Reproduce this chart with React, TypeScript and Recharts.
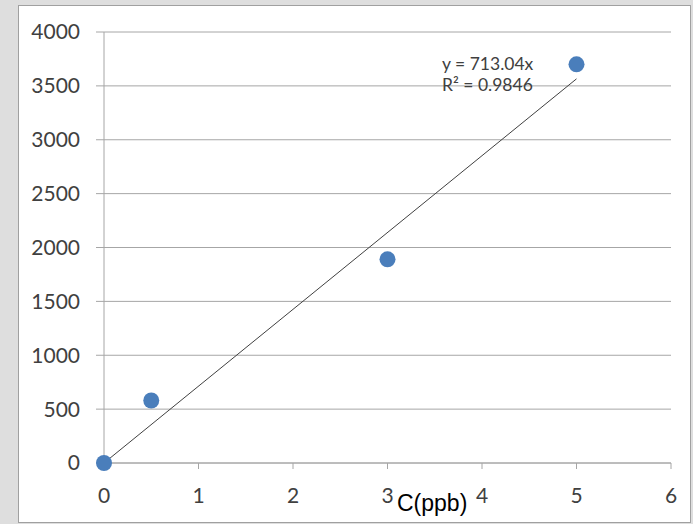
import { ScatterChart, Scatter, XAxis, YAxis, CartesianGrid } from 'recharts'

// measured points: concentration (ppb) vs signal
const concentration = [0, 0.5, 3, 5]
const signal = [0, 580, 1890, 3700]

// linear fit through origin, y = 713.04x
const slope = 713.04
const fitX = [0, 5]

const xTicks = [0, 1, 2, 3, 4, 5, 6]
const yTicks = [0, 500, 1000, 1500, 2000, 2500, 3000, 3500, 4000]

const points = concentration.map((c, i) => ({ x: c, y: signal[i] }))
const fitLine = fitX.map((x) => ({ x, y: slope * x }))

const tickFont = { fill: '#404040', fontSize: 21, fontFamily: 'Lato' }
const gridColor = '#a6a6a6'

export default function App() {
  return (
    <div
      style={{
        position: 'fixed',
        left: 0,
        top: 0,
        width: 693,
        height: 524,
        background: '#dedede',
        overflow: 'hidden',
      }}
    >
      <div
        style={{
          position: 'absolute',
          left: 18,
          top: 5,
          width: 671,
          height: 516,
          background: '#fff',
          border: '1px solid #a0a0a0',
        }}
      />
      <div style={{ position: 'absolute', left: 0, top: 0 }}>
        <ScatterChart
          width={693}
          height={524}
          margin={{ top: 32, right: 22, bottom: 31, left: 0 }}
        >
          <CartesianGrid vertical={false} stroke={gridColor} />
          <XAxis
            type="number"
            dataKey="x"
            domain={[0, 6]}
            ticks={xTicks}
            height={30}
            stroke={gridColor}
            tickSize={6}
            tickMargin={19}
            tick={tickFont}
          />
          <YAxis
            type="number"
            dataKey="y"
            domain={[0, 4000]}
            ticks={yTicks}
            width={104}
            stroke={gridColor}
            tickSize={8}
            tickMargin={16}
            tick={tickFont}
          />
          <Scatter
            data={fitLine}
            line={{ stroke: '#404040', strokeWidth: 1 }}
            shape={() => null}
            isAnimationActive={false}
          />
          <Scatter
            data={points}
            fill="#4a7ebb"
            shape={(props: any) => (
              <circle cx={props.cx} cy={props.cy} r={8} fill="#4a7ebb" />
            )}
            isAnimationActive={false}
          />
        </ScatterChart>
      </div>
      <div
        style={{
          position: 'absolute',
          left: 442,
          top: 53,
          fontFamily: 'Lato',
          fontSize: 17.5,
          lineHeight: '21px',
          color: '#404040',
        }}
      >
        <div>y = 713.04x</div>
        <div>R² = 0.9846</div>
      </div>
      <div
        style={{
          position: 'absolute',
          left: 397,
          top: 490,
          fontFamily: 'Liberation Sans',
          fontSize: 23,
          lineHeight: '26px',
          color: '#000',
        }}
      >
        C(ppb)
      </div>
    </div>
  )
}
